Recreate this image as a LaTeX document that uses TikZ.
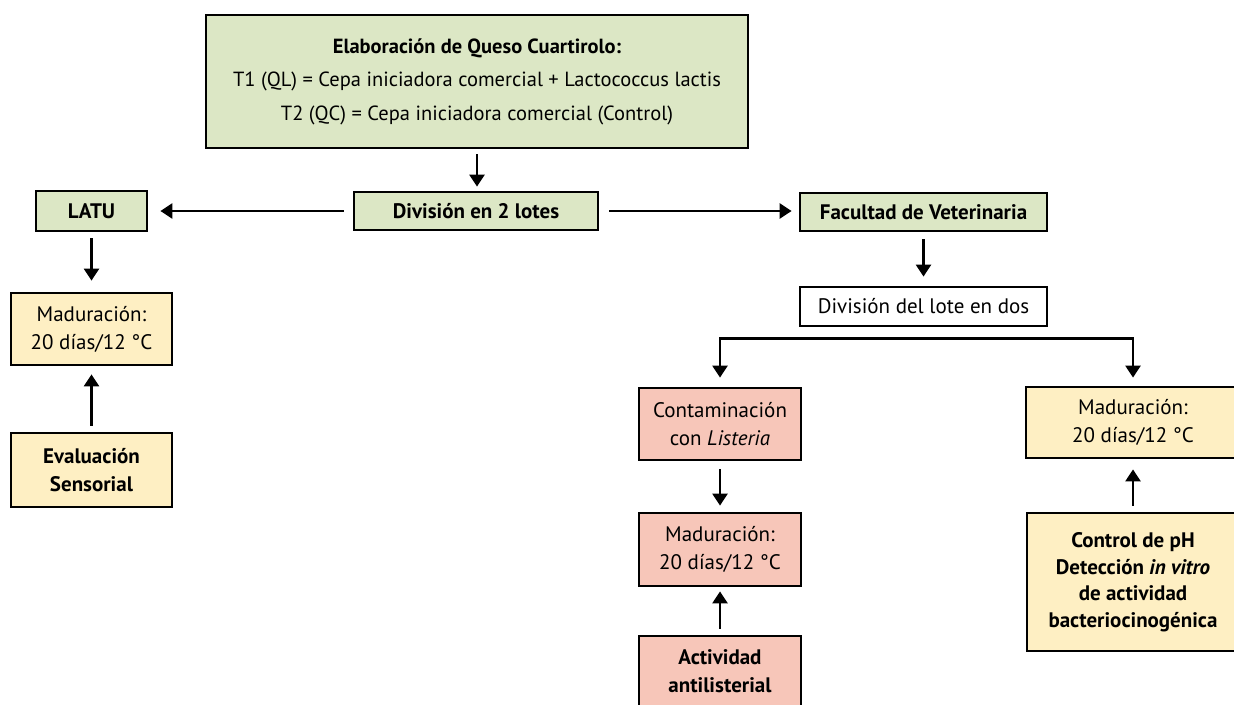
\documentclass[tikz,border=0pt]{standalone}
\usepackage{fontspec}
\setmainfont{PT Sans}
\usetikzlibrary{arrows.meta}
\definecolor{gfill}{HTML}{DCE7C5}
\definecolor{yfill}{HTML}{FEEFC3}
\definecolor{rfill}{HTML}{F7C6B9}
\tikzset{
  box/.style={draw=black, line width=2.8pt, inner sep=0pt, align=center, font=\fontsize{21}{28}\selectfont},
  gbox/.style={box, fill=gfill},
  ybox/.style={box, fill=yfill},
  rbox/.style={box, fill=rfill},
  wbox/.style={box, fill=white},
  arr/.style={line width=2.5pt, -{Triangle[width=15pt,length=12pt]}}
}
\begin{document}
\begin{tikzpicture}[x=1pt,y=-1pt]
\useasboundingbox (0,0) rectangle (1234,704);
\fill[white] (0,0) rectangle (1234,704);
% top
\node[gbox, minimum width=542pt, minimum height=133pt, font=\fontsize{20.5}{33.5}\selectfont] (top) at (477,81.5)
  {\textbf{Elaboración de Queso Cuartirolo:}\\T1 (QL) = Cepa iniciadora comercial + Lactococcus lactis\\T2 (QC) = Cepa iniciadora comercial (Control)};
\node[gbox, minimum width=244pt, minimum height=38pt] (div) at (476,211) {\textbf{División en 2 lotes}};
\node[gbox, minimum width=111pt, minimum height=40pt] (latu) at (91.5,211) {\textbf{LATU}};
\node[gbox, minimum width=247pt, minimum height=38pt] (fac) at (923.5,212) {\textbf{Facultad de Veterinaria}};
\node[wbox, minimum width=247pt, minimum height=39pt] (div2) at (923.5,306.5) {División del lote en dos};
% left column
\node[ybox, minimum width=161pt, minimum height=72pt] (mad1) at (91.5,329) {Maduración:\\20 días/12 °C};
\node[ybox, minimum width=161pt, minimum height=74pt] (eval) at (91.5,470) {\textbf{Evaluación}\\\textbf{Sensorial}};
% middle column
\node[rbox, minimum width=162pt, minimum height=72pt] (cont) at (720,424) {Contaminación\\con \textit{Listeria}};
\node[rbox, minimum width=162pt, minimum height=73pt] (mad2) at (720,549.5) {Maduración:\\20 días/12 °C};
\node[rbox, minimum width=162pt, minimum height=70pt] (act) at (720,671) {\textbf{Actividad}\\\textbf{antilisterial}};
% right column
\node[ybox, minimum width=214pt, minimum height=71pt] (mad3) at (1133,422.5) {Maduración:\\20 días/12 °C};
\node[ybox, minimum width=212pt, minimum height=138pt, font=\fontsize{21}{26.5}\selectfont] (ctrl) at (1133,582)
  {\textbf{Control de pH}\\\textbf{Detección \textit{in vitro}}\\\textbf{de actividad}\\\textbf{bacteriocinogénica}};
% connectors
\draw[arr, shorten <=5pt, shorten >=4pt] (top.south) -- (top.south |- div.north);
\draw[arr, shorten <=9pt, shorten >=12pt] (div.west) -- (latu.east);
\draw[arr, shorten <=10pt, shorten >=7pt] (div.east) -- (fac.west |- div.east);
\draw[arr, shorten <=6pt, shorten >=11pt] (latu.south) -- (mad1.north);
\draw[arr, shorten <=6pt, shorten >=8pt] (eval.north) -- (mad1.south);
\draw[arr, shorten <=7pt, shorten >=9pt] (fac.south) -- (div2.north);
\coordinate (br) at ([yshift=-11pt]div2.south);
\draw[arr, shorten >=9pt] (br) -| (cont.north);
\draw[arr, shorten >=8pt] (br) -| (mad3.north);
\draw[arr, shorten <=8pt, shorten >=6pt] (cont.south) -- (mad2.north);
\draw[arr, shorten <=6pt, shorten >=4pt] (act.north) -- (mad2.south);
\draw[arr, shorten <=6pt, shorten >=10pt] (ctrl.north) -- (mad3.south);
\end{tikzpicture}
\end{document}
